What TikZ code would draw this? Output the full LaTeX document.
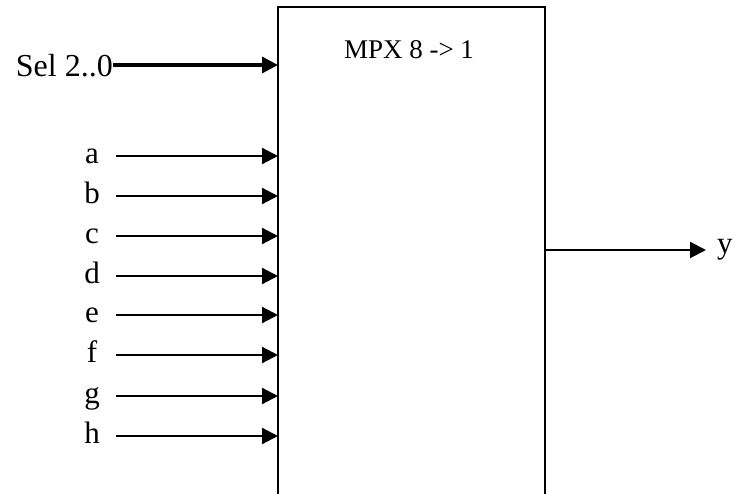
\documentclass[tikz,border=0pt]{standalone}
\usepackage{fontspec}
\setmainfont{Liberation Serif}
\usetikzlibrary{arrows.meta}
\begin{document}
\begin{tikzpicture}[x=1pt,y=-1pt,
  sig/.style={line width=2.2pt,-{Triangle[length=16pt,width=16pt]}},
  selsig/.style={line width=3.4pt,-{Triangle[length=16pt,width=16pt]}},
  inlabel/.style={font=\fontsize{31}{31}\selectfont,anchor=base,inner sep=0pt},
  blockbox/.style={draw,line width=2.2pt,minimum width=267pt,minimum height=513pt,inner sep=0pt}]
  \useasboundingbox (0,0) rectangle (734,493);
  \clip (0,0) rectangle (734,493);
  % multiplexer block (runs off the lower edge)
  \node[blockbox] (mpx) at (411.5,263.5) {};
  \node[font=\fontsize{27}{27}\selectfont,anchor=base,inner sep=0pt] (title) at (409,58) {MPX 8 -> 1};
  % select input
  \node[font=\fontsize{32}{32}\selectfont,anchor=base east,inner sep=0pt] (sel) at (113,76) {Sel 2..0};
  \coordinate (selin) at (278,65);
  \draw[selsig] (sel.east |- selin) -- (selin);
  % data inputs a..h
  \foreach \n/\y in {a/156,b/196,c/236,d/276,e/315,f/355,g/396,h/436}{
    \node[inlabel] (l\n) at (92,\y+7) {\n};
    \coordinate (s\n) at (116,\y);
    \coordinate (t\n) at (278,\y);
    \draw[sig] (s\n) -- (t\n);
  }
  % output
  \coordinate (yout) at (545,250);
  \coordinate (ytip) at (706,250);
  \node[inlabel,anchor=base west] (yl) at (717,253) {y};
  \draw[sig] (yout) -- (ytip);
\end{tikzpicture}
\end{document}
